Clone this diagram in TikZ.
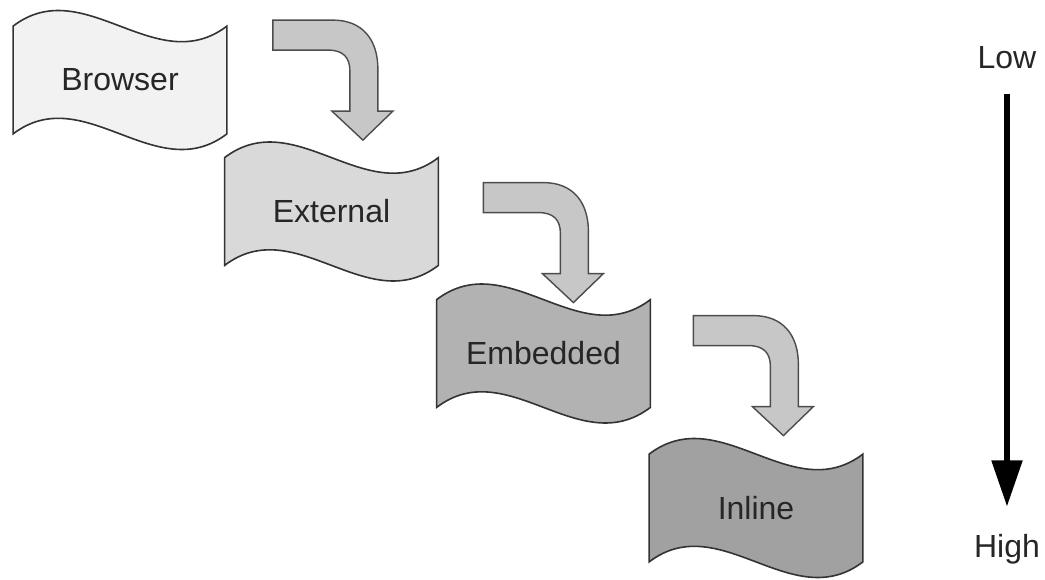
\documentclass[tikz,border=0pt]{standalone}
\usepackage{fontspec}
\setmainfont{Liberation Sans}
\usepackage{tikz}
\usetikzlibrary{arrows.meta, backgrounds}
\tikzset{
    x=0.5pt, y=-0.5pt, % one unit is one pixel of the sketch, y grows downwards
    every node/.style={font=\fontsize{16}{19}\selectfont, text=black!85}, % sets the look of all texts
    flag/.style={minimum width=106.5pt, minimum height=53.5pt, inner sep=0pt}, % box that the wavy page is drawn around
    level/.style={inner sep=0pt, anchor=base},
    page/.style={draw=black!80, line width=0.8pt},
    bendarrow/.style={draw=black!70, line width=0.7pt, fill=black!22, line join=miter},
    scalearrow/.style={-{Triangle[length=23pt, width=15pt]}, line width=2.6pt, shorten <=12.5pt, shorten >=13.5pt},
}
\begin{document}
\begin{tikzpicture}
    \useasboundingbox (0,0) rectangle (1045,579);
    \node[flag] (browser) at (120,80) {Browser};
    \node[flag] (external) at (331.5,211.5) {External};
    \node[flag] (embedded) at (543.5,353.5) {Embedded};
    \node[flag] (inline) at (756,508) {Inline};
    \node[level] (low) at (1007,68) {Low};
    \node[level] (high) at (1007,557) {High};
    % the wavy pages behind the texts
    \begin{scope}[on background layer]
        \foreach \n/\c in {browser/black!5, external/black!15, embedded/black!30, inline/black!37}
            \path[page, fill=\c] (\n.north west) .. controls +(71,-54) and +(-71,54) .. (\n.north east)
                -- (\n.south east) .. controls +(-71,54) and +(71,-54) .. (\n.south west) -- cycle;
    \end{scope}
    % bent arrows from one page to the next
    \foreach \n/\dx/\dy in {browser/46/-6, external/45/25, embedded/43/16}
        \draw[bendarrow] ([shift={(\dx,\dy)}]\n.north east) -- ++(60,0)
            .. controls +(30,0) and +(0,-29) .. ++(45,49) -- ++(0,42) -- ++(15,0)
            -- ++(-30,29) -- ++(-31,-29) -- ++(18,0) -- ++(0,-40)
            .. controls +(0,-14) and +(15,0) .. ++(-22,-21) -- ++(-55,0) -- cycle;
    \draw[scalearrow] (low.south) -- (high.north);
\end{tikzpicture}
\end{document}
